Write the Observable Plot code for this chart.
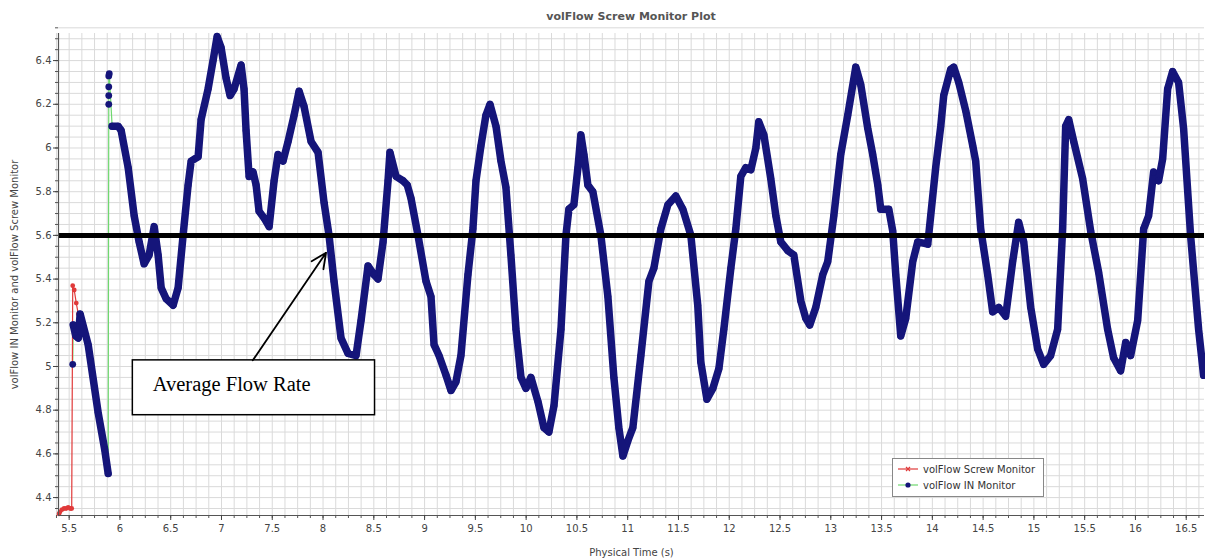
<!DOCTYPE html>
<html>
<head>
<meta charset="utf-8">
<script src="https://cdn.jsdelivr.net/npm/d3@7"></script>
<script src="https://cdn.jsdelivr.net/npm/@observablehq/plot@0.6"></script>
<style>
  html, body { margin: 0; padding: 0; background: #fff; }
  #wrap { position: relative; width: 1205px; height: 559px; overflow: hidden; font-family: "DejaVu Sans", sans-serif; }
  #title { height: 28px; box-sizing: border-box; padding: 10px 1px 0 58px; text-align: center; font-size: 11px; line-height: 14px; color: #555; font-weight: bold; }
  #legend { position: absolute; left: 892px; top: 458px; width: 152px; height: 39px; box-sizing: border-box; border: 1px solid #888; background: #fff; font-size: 10px; color: #333; }
  #legend .row { position: absolute; left: 5px; height: 12px; display: flex; align-items: center; }
  #legend .row svg { margin-right: 5px; }
</style>
</head>
<body>
<div id="wrap">
  <div id="title">volFlow Screw Monitor Plot</div>
  <div id="chart"></div>
  <div id="legend">
    <div class="row" style="top:4px">
      <svg width="20" height="10"><line x1="0" y1="5" x2="20" y2="5" stroke="#e03a3a" stroke-width="1.2"/><path d="M8,3 L12,7 M12,3 L8,7" stroke="#e03a3a" stroke-width="1.2"/></svg>
      <span>volFlow Screw Monitor</span>
    </div>
    <div class="row" style="top:20px">
      <svg width="20" height="10"><line x1="0" y1="5" x2="20" y2="5" stroke="#6fd86f" stroke-width="1.2"/><circle cx="10" cy="5" r="2.6" fill="#15157a"/></svg>
      <span>volFlow IN Monitor</span>
    </div>
  </div>
</div>
<script>
// ---- tick labels ----
const xTicks = [5.5, 6, 6.5, 7, 7.5, 8, 8.5, 9, 9.5, 10, 10.5, 11, 11.5, 12, 12.5, 13, 13.5, 14, 14.5, 15, 15.5, 16, 16.5];
const yTicks = [4.4, 4.6, 4.8, 5, 5.2, 5.4, 5.6, 5.8, 6, 6.2, 6.4];
const xDomain = [5.395, 16.68];
const yDomain = [4.318, 6.524];

// ---- volFlow Screw Monitor (visible only at the start) ----
const screwTime = [5.40, 5.41, 5.43, 5.45, 5.47, 5.49, 5.51, 5.525, 5.535, 5.55, 5.57, 5.59, 5.605];
const screwFlow = [4.325, 4.335, 4.345, 4.35, 4.35, 4.355, 4.35, 4.35, 5.37, 5.35, 5.29, 5.24, 5.22];

// ---- volFlow IN Monitor ----
const inTimeA = [5.535, 5.54, 5.565, 5.59, 5.608, 5.687, 5.785, 5.85, 5.884];
const inFlowA = [5.01, 5.19, 5.14, 5.13, 5.24, 5.10, 4.79, 4.62, 4.51];

const inTimeB = [5.89, 5.89, 5.89, 5.89, 5.895];
const inFlowB = [6.20, 6.24, 6.28, 6.33, 6.34];

const inTimeC = [5.923, 5.982, 6.012, 6.081, 6.140, 6.189, 6.238, 6.287, 6.337, 6.376, 6.406, 6.455, 6.524, 6.573, 6.622, 6.671, 6.701, 6.770, 6.799, 6.868, 6.917, 6.957, 6.996, 7.045, 7.085, 7.124, 7.193, 7.222, 7.242, 7.272, 7.311, 7.341, 7.370, 7.419, 7.469, 7.518, 7.557, 7.606, 7.656, 7.715, 7.764, 7.813, 7.882, 7.951, 8.010, 8.059, 8.108, 8.177, 8.246, 8.325, 8.374, 8.443, 8.502, 8.541, 8.591, 8.640, 8.659, 8.719, 8.787, 8.83, 8.866, 8.935, 9.014, 9.063, 9.093, 9.142, 9.211, 9.260, 9.309, 9.358, 9.427, 9.476, 9.506, 9.555, 9.604, 9.644, 9.703, 9.752, 9.801, 9.850, 9.900, 9.949, 9.998, 10.047, 10.116, 10.175, 10.224, 10.274, 10.343, 10.392, 10.421, 10.470, 10.510, 10.539, 10.569, 10.608, 10.657, 10.736, 10.805, 10.864, 10.913, 10.953, 11.002, 11.051, 11.130, 11.209, 11.258, 11.327, 11.396, 11.474, 11.543, 11.622, 11.69, 11.720, 11.780, 11.839, 11.898, 11.947, 12.016, 12.065, 12.114, 12.163, 12.213, 12.262, 12.291, 12.341, 12.409, 12.459, 12.508, 12.577, 12.636, 12.705, 12.754, 12.793, 12.852, 12.921, 12.970, 13.030, 13.098, 13.167, 13.246, 13.295, 13.364, 13.413, 13.463, 13.492, 13.571, 13.610, 13.640, 13.689, 13.738, 13.807, 13.856, 13.955, 13.984, 14.033, 14.083, 14.112, 14.181, 14.211, 14.260, 14.329, 14.398, 14.427, 14.476, 14.545, 14.594, 14.654, 14.722, 14.791, 14.850, 14.900, 14.969, 15.037, 15.096, 15.165, 15.234, 15.283, 15.313, 15.343, 15.392, 15.480, 15.559, 15.638, 15.726, 15.785, 15.854, 15.904, 15.953, 16.022, 16.081, 16.130, 16.179, 16.228, 16.268, 16.317, 16.366, 16.425, 16.474, 16.543, 16.622, 16.671];
const inFlowC = [6.10, 6.10, 6.08, 5.91, 5.69, 5.57, 5.47, 5.51, 5.64, 5.51, 5.36, 5.31, 5.28, 5.36, 5.60, 5.83, 5.94, 5.96, 6.13, 6.27, 6.40, 6.51, 6.46, 6.32, 6.24, 6.27, 6.38, 6.27, 6.08, 5.87, 5.89, 5.83, 5.71, 5.68, 5.64, 5.85, 5.97, 5.94, 6.03, 6.15, 6.26, 6.19, 6.03, 5.98, 5.75, 5.60, 5.39, 5.13, 5.06, 5.05, 5.21, 5.46, 5.42, 5.40, 5.57, 5.85, 5.98, 5.87, 5.85, 5.83, 5.77, 5.60, 5.39, 5.32, 5.10, 5.05, 4.96, 4.89, 4.93, 5.05, 5.42, 5.63, 5.85, 6.01, 6.15, 6.20, 6.10, 5.94, 5.82, 5.51, 5.17, 4.95, 4.90, 4.95, 4.84, 4.72, 4.70, 4.82, 5.17, 5.60, 5.72, 5.74, 5.91, 6.06, 5.97, 5.83, 5.80, 5.60, 5.32, 4.95, 4.72, 4.59, 4.66, 4.72, 5.05, 5.39, 5.45, 5.63, 5.74, 5.78, 5.72, 5.60, 5.28, 5.02, 4.85, 4.90, 4.99, 5.17, 5.45, 5.63, 5.87, 5.91, 5.90, 6.00, 6.12, 6.06, 5.86, 5.69, 5.57, 5.53, 5.51, 5.30, 5.22, 5.19, 5.27, 5.42, 5.48, 5.69, 5.97, 6.15, 6.37, 6.29, 6.09, 5.97, 5.83, 5.72, 5.72, 5.62, 5.42, 5.14, 5.22, 5.48, 5.57, 5.56, 5.69, 5.91, 6.10, 6.24, 6.36, 6.37, 6.30, 6.17, 6.01, 5.94, 5.63, 5.42, 5.25, 5.27, 5.23, 5.48, 5.66, 5.57, 5.27, 5.08, 5.01, 5.05, 5.17, 5.63, 6.10, 6.13, 6.03, 5.86, 5.62, 5.43, 5.17, 5.04, 4.98, 5.11, 5.05, 5.21, 5.63, 5.69, 5.89, 5.85, 5.95, 6.27, 6.35, 6.30, 6.09, 5.60, 5.17, 4.96];

// ---- average flow line and its annotation ----
const averageFlow = 5.6;
const noteLabel = ["Average Flow Rate"];
const noteBox = [{x1: 6.127, x2: 8.512, y1: 4.777, y2: 5.028}];
const notePos = [{x: 6.323, y: 4.917}];
const noteArrow = [{x1: 7.308, y1: 5.028, x2: 8.030, y2: 5.521}];

// ---- build tables ----
const pairs = (ts, vs) => ts.map((t, i) => ({t, v: vs[i]}));
const screw = pairs(screwTime, screwFlow);
const inA = pairs(inTimeA, inFlowA);
const inB = pairs(inTimeB, inFlowB);
const inC = pairs(inTimeC, inFlowC);
const inAll = [...inA, ...inB, ...inC];

// grid positions (minor divisions of the axes)
const xGrid = d3.range(0, 91).map(k => 5.375 + k * 0.125);
const yGrid = d3.range(0, 45).map(k => +(4.35 + k * 0.05).toFixed(2));

const navy = "#15157a";
const fmt = d => String(+d.toFixed(2));

const chart = Plot.plot({
  width: 1205,
  height: 531,
  marginLeft: 58,
  marginRight: 1,
  marginTop: 5,
  marginBottom: 44,
  style: {fontFamily: "DejaVu Sans, sans-serif", fontSize: "10px", color: "#444", background: "white", overflow: "visible"},
  x: {domain: xDomain},
  y: {domain: yDomain},
  marks: [
    Plot.ruleX(xGrid, {stroke: "#dadada", strokeWidth: 1}),
    Plot.ruleY(yGrid, {stroke: "#dadada", strokeWidth: 1}),
    // IN monitor connecting line (green)
    Plot.line(inAll, {x: "t", y: "v", stroke: "#6fd86f", strokeWidth: 1.2}),
    // Screw monitor (red)
    Plot.line(screw, {x: "t", y: "v", stroke: "#e03a3a", strokeWidth: 1.2}),
    Plot.dot(screw, {x: "t", y: "v", r: 2.4, fill: "#e03a3a"}),
    // IN monitor dense markers (navy)
    Plot.line(inA.slice(1), {x: "t", y: "v", stroke: navy, strokeWidth: 7.5, strokeLinejoin: "round", strokeLinecap: "round"}),
    Plot.line(inC, {x: "t", y: "v", stroke: navy, strokeWidth: 7.5, strokeLinejoin: "round", strokeLinecap: "round"}),
    Plot.dot(inAll, {x: "t", y: "v", r: 3.4, fill: navy}),
    // average
    Plot.ruleY([averageFlow], {stroke: "black", strokeWidth: 5}),
    // annotation
    Plot.rect(noteBox, {x1: "x1", x2: "x2", y1: "y1", y2: "y2", fill: "white", stroke: "black", strokeWidth: 1.5}),
    Plot.text(notePos, {x: "x", y: "y", text: () => noteLabel[0], textAnchor: "start", fontSize: 20.5, fontFamily: "Liberation Serif, Times New Roman, serif", fill: "black"}),
    Plot.arrow(noteArrow, {x1: "x1", y1: "y1", x2: "x2", y2: "y2", stroke: "black", strokeWidth: 1.8, headLength: 14, headAngle: 50}),
    // axes
    Plot.ruleX([xDomain[0]], {stroke: "#555", strokeWidth: 1.2}),
    Plot.ruleY([yDomain[0]], {stroke: "#555", strokeWidth: 1.2}),
    Plot.axisX({ticks: xGrid, tickSize: 3, text: null, label: null, stroke: "#555"}),
    Plot.axisX({ticks: xTicks, tickSize: 5, tickPadding: 4, tickFormat: fmt, stroke: "#444", fill: "#444",
      label: "Physical Time (s)", labelAnchor: "center", labelArrow: "none", labelOffset: 40}),
    Plot.axisY({ticks: yGrid, tickSize: 3, text: null, label: null, stroke: "#555"}),
    Plot.axisY({ticks: yTicks, tickSize: 5, tickPadding: 2, tickFormat: fmt, stroke: "#444", fill: "#444",
      label: "volFlow IN Monitor and volFlow Screw Monitor", labelAnchor: "center", labelArrow: "none", labelOffset: 48})
  ]
});
document.getElementById("chart").appendChild(chart);
</script>
</body>
</html>
